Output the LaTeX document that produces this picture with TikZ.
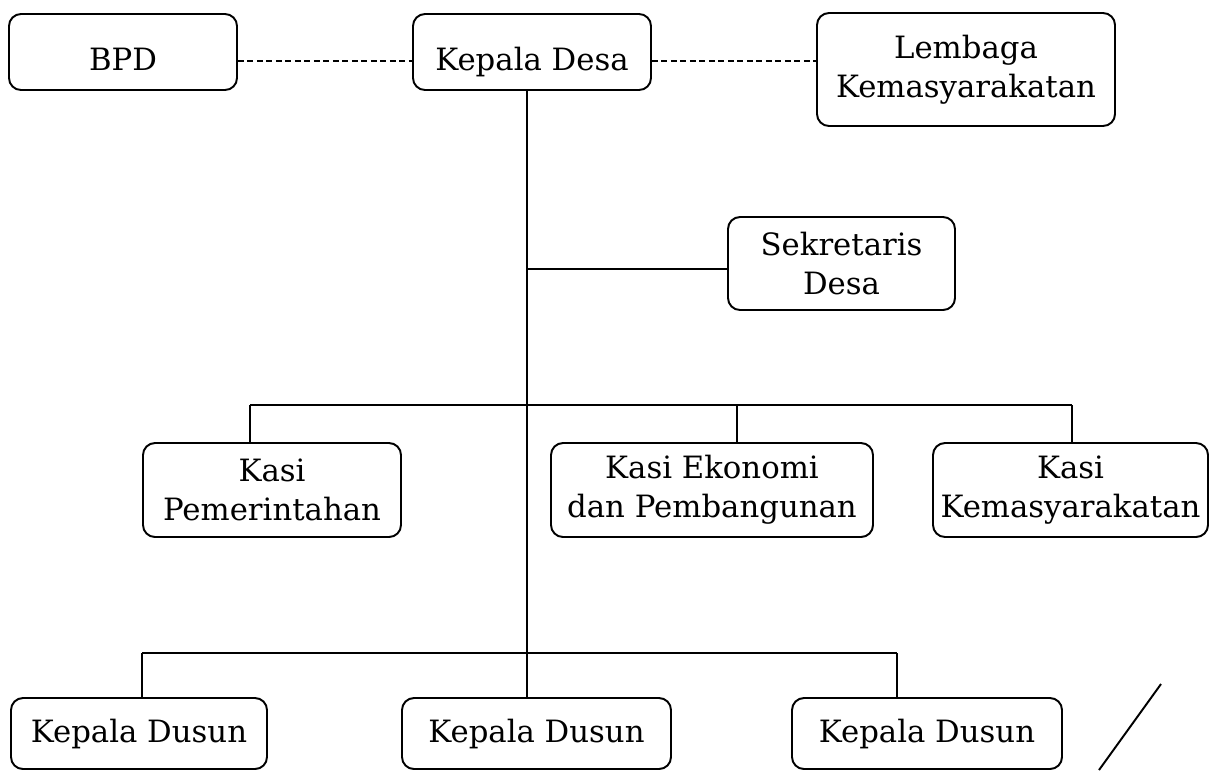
\documentclass[tikz,border=0pt]{standalone}
\usepackage{fontspec}
\setmainfont{DejaVu Serif}
\begin{document}
\begin{tikzpicture}[x=0.2mm,y=-0.2mm,line width=1.1pt,
  every node/.style={font=\fontsize{17.5}{22}\selectfont},
  unit/.style={draw,rounded corners=2.4mm,align=center,inner sep=0pt},
  low/.style={text height=7.2mm,text depth=0pt},
  link/.style={dash pattern=on 1.2mm off 0.7mm}]
  \useasboundingbox (0,0) rectangle (1210,771);
  % Top row: the village head with its two partners.
  \node[unit,low,minimum width=45.6mm,minimum height=15.2mm] (BPD) at (123,52) {BPD};
  \node[unit,low,minimum width=47.6mm,minimum height=15.2mm] (KD) at (532,52) {Kepala Desa};
  \node[unit,minimum width=59.6mm,minimum height=22.6mm] (LK) at (966,69.5) {Lembaga\\Kemasyarakatan};
  \node[unit,minimum width=45.4mm,minimum height=18.6mm] (SD) at (841.5,263.5) {Sekretaris\\Desa};

  \node[unit,minimum width=51.6mm,minimum height=18.8mm] (KP) at (272,490) {Kasi\\Pemerintahan};
  \node[unit,minimum width=64.4mm,minimum height=18.8mm] (KE) at (712,490) {Kasi Ekonomi\\dan Pembangunan};
  \node[unit,minimum width=55mm,minimum height=18.8mm] (KK) at (1070.5,490) {Kasi\\Kemasyarakatan};

  \node[unit,minimum width=51.2mm,minimum height=14.2mm] (D1) at (139,733.5) {Kepala Dusun};
  \node[unit,minimum width=53.8mm,minimum height=14.2mm] (D2) at (536.5,733.5) {Kepala Dusun};
  \node[unit,minimum width=54mm,minimum height=14.2mm] (D3) at (927,733.5) {Kepala Dusun};

  \coordinate (SJ) at (527,269);
  \coordinate (DB) at (527,653);
  \coordinate (KP1) at (250,405); \coordinate (KE1) at (737,405);
  \coordinate (KK1) at (1072,405);
  \coordinate (D11) at (142,653); \coordinate (D31) at (897,653);

  \draw[link] ([yshift=-1.8mm]BPD.east) -- ([yshift=-1.8mm]KD.west);
  \draw[link] ([yshift=-1.8mm]KD.east) -- ([yshift=-1.8mm]KD.east -| LK.west);
  \draw (KD.south -| DB) -- (DB) -- (D2.north -| DB);
  \draw (SJ) -- (SJ -| SD.west);
  \draw (KP1) -- (KK1);
  \draw (KP1) -- (KP1 |- KP.north);
  \draw (KE1) -- (KE1 |- KE.north);
  \draw (KK1) -- (KK1 |- KK.north);
  \draw (D11) -- (D31);
  \draw (D11) -- (D11 |- D1.north);
  \draw (D31) -- (D31 |- D3.north);

  \draw (1161,684) -- (1099,770);
\end{tikzpicture}
\end{document}
